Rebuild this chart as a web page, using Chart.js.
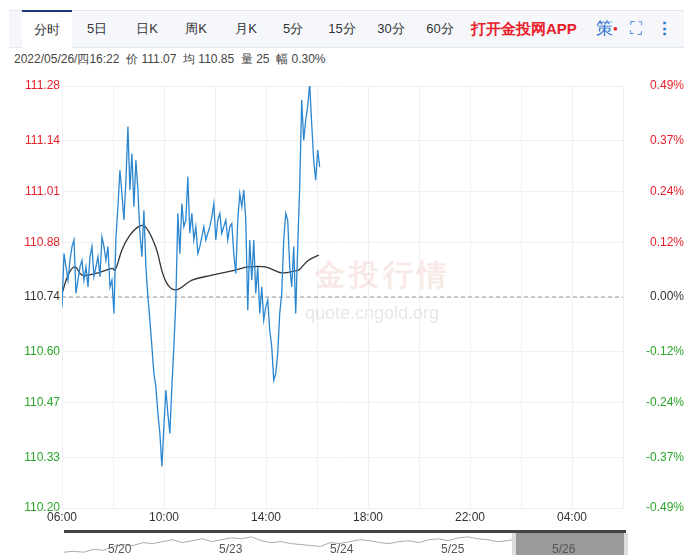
<!DOCTYPE html>
<html>
<head>
<meta charset="utf-8">
<script src="https://cdn.jsdelivr.net/npm/chart.js@4"></script>
<style>
body { margin: 0; width: 684px; height: 555px; background: #fff; font-family: "Liberation Sans", Arial, sans-serif; overflow: hidden; position: relative; }
.tabs { position: absolute; left: 9px; top: 10px; width: 675px; height: 36px; background: #f5f7fb; border-top: 1px solid #e3e8f0; border-bottom: 1px solid #e3e8f0; }
.tab { position: absolute; top: 0; height: 36px; line-height: 36px; font-size: 13px; color: #333; width: 50px; margin-left: -25px; text-align: center; }
.tab.on { background: #fff; border-top: 2px solid #1b3a7a; top: -1px; }
.app { position: absolute; left: 462px; top: 0; line-height: 36px; font-size: 15px; color: #e8202a; font-weight: bold; }
.info { position: absolute; left: 14px; top: 51px; font-size: 12px; color: #444; }
#wrap { position: absolute; left: 0; top: 70px; width: 684px; height: 460px; }
.wm { position: absolute; left: 315px; top: 255px; color: rgba(220,120,100,0.16); font-size: 30px; letter-spacing: 4px; font-weight: bold; }
.wm2 { position: absolute; left: 305px; top: 303px; color: rgba(160,160,160,0.25); font-size: 18px; }
.nav { position: absolute; left: 64px; top: 530px; width: 562px; height: 25px; border-top: 3px solid #444; }
.navsel { position: absolute; left: 448px; top: 0; width: 108px; height: 25px; background: #9a9a9a; border-left: 4px solid #ddd; border-right: 4px solid #ddd; }
.navlbl { position: absolute; top: 9px; font-size: 12px; color: #555; }
#navc { position: absolute; left: 0; top: 0; }
</style>
</head>
<body>
<div class="tabs">
  <div class="tab on" style="left:38px">分时</div>
  <div class="tab" style="left:88px">5日</div>
  <div class="tab" style="left:138px">日K</div>
  <div class="tab" style="left:187px">周K</div>
  <div class="tab" style="left:237px">月K</div>
  <div class="tab" style="left:284px">5分</div>
  <div class="tab" style="left:333px">15分</div>
  <div class="tab" style="left:382px">30分</div>
  <div class="tab" style="left:431px">60分</div>
  <div class="app">打开金投网APP</div>
  <div class="tab" style="left:598px;color:#2a6fd0;font-size:17px">策<span style="color:#e8202a;font-size:8px;vertical-align:top">●</span></div>
  <div class="tab" style="left:627px;color:#2a6fd0;font-size:17px">⛶</div>
  <div class="tab" style="left:655px;color:#2a6fd0;font-size:17px;font-weight:bold">⋮</div>
</div>
<div class="info">2022/05/26/四16:22 &nbsp;价 111.07 &nbsp;均 110.85 &nbsp;量 25 &nbsp;幅 0.30%</div>
<div id="wrap"><canvas id="c"></canvas></div>
<div class="wm">金投行情</div>
<div class="wm2">quote.cngold.org</div>
<div class="nav">
  <canvas id="navc" width="562" height="25"></canvas>
  <div class="navsel"></div>
  <div class="navlbl" style="left:44px">5/20</div>
  <div class="navlbl" style="left:155px">5/23</div>
  <div class="navlbl" style="left:266px">5/24</div>
  <div class="navlbl" style="left:377px">5/25</div>
  <div class="navlbl" style="left:488px">5/26</div>
</div>
<script>
const startHour = 6;
const sampleStep = 4.7; // minutes between price samples
const prices = [110.715,110.851,110.817,110.783,110.834,110.869,110.886,110.749,110.783,110.817,
  110.834,110.783,110.817,110.766,110.843,110.869,110.792,110.817,110.843,110.792,
  110.894,110.869,110.834,110.869,110.766,110.783,110.698,110.894,110.971,111.065,
  111.005,110.937,111.039,111.176,111.014,111.107,110.971,111.090,111.014,110.903,
  110.843,110.962,110.817,110.741,110.681,110.613,110.544,110.510,110.442,110.391,
  110.306,110.408,110.502,110.442,110.391,110.510,110.613,110.732,110.954,110.851,
  110.979,110.920,110.937,111.048,110.903,110.954,110.886,110.920,110.851,110.869,
  110.894,110.920,110.886,110.903,110.920,110.945,110.979,110.886,110.937,110.954,
  110.903,110.920,110.937,110.886,110.920,110.928,110.851,110.800,110.937,111.005,
  110.971,111.014,110.937,110.706,110.886,110.783,110.886,110.749,110.817,110.698,
  110.766,110.681,110.715,110.732,110.655,110.613,110.527,110.544,110.596,110.698,
  110.749,110.886,110.954,110.937,110.817,110.766,110.869,110.698,110.869,111.022,
  111.244,111.141,111.193,111.227,111.286,111.184,111.090,111.039,111.116,111.073];
const avgMinutes = [0,16,31,47,78,118,125,141,157,180,196,220,243,267,306,353,408,439,478,517,549,557,580,604];
const avgPrices = [110.749,110.800,110.817,110.796,110.800,110.813,110.809,110.860,110.894,110.920,110.920,110.869,
  110.783,110.758,110.783,110.796,110.809,110.817,110.817,110.802,110.807,110.809,110.834,110.847];
const prevClose = 110.74;
const priceTicks = [110.20,110.33,110.47,110.60,110.74,110.88,111.01,111.14,111.28];
const pctTicks = ['-0.49%','-0.37%','-0.24%','-0.12%','0.00%','0.12%','0.24%','0.37%','0.49%'];
const timeLabels = ['06:00','10:00','14:00','18:00','22:00','04:00'];
const navValues = [6,7,6,9,8,12,14,13,16,15,17,19,16,18,20,17,19,21,20,22,18,16,17,15,14,13,12,16,15,17,19,
  18,16,15,17,18,16,19,20,18,21,22,20,19,17,18,20,19,21,20,18,19,20,22,21,19,18,17];

const fam = '"Liberation Sans", Arial, sans-serif';
const tickColor = v => v > prevClose + 0.001 ? '#e8202a' : (v < prevClose - 0.001 ? '#2aa52a' : '#333');

new Chart(document.getElementById('c'), {
  type: 'line',
  data: {
    datasets: [
      { data: prices.map((p, i) => ({ x: i * sampleStep, y: p })), borderColor: '#2b86d0', borderWidth: 1.3, pointRadius: 0, tension: 0 },
      { data: avgMinutes.map((m, i) => ({ x: m, y: avgPrices[i] })), borderColor: '#333', borderWidth: 1.3, pointRadius: 0, tension: 0.4 },
      { data: [{ x: 0, y: prevClose }, { x: 1320, y: prevClose }], borderColor: '#999', borderWidth: 1, borderDash: [4, 3], pointRadius: 0 }
    ]
  },
  options: {
    animation: false, responsive: true, maintainAspectRatio: false,
    layout: { padding: { top: 16, right: 0, left: 0, bottom: 0 } },
    plugins: { legend: { display: false }, tooltip: { enabled: false } },
    scales: {
      x: {
        type: 'linear', min: 0, max: 1320,
        afterBuildTicks: s => { s.ticks = []; for (let m = 0; m <= 1320; m += 120) s.ticks.push({ value: m }); },
        ticks: {
          color: '#333', font: { family: fam, size: 12 }, maxRotation: 0, autoSkip: false, padding: 2,
          callback: v => v % 240 === 0 ? timeLabels[v / 240] : ''
        },
        grid: { color: '#eef0f4', drawTicks: false },
        border: { display: false },
        afterFit: s => { s.height = 22; }
      },
      y: {
        position: 'left', min: 110.20, max: 111.28,
        afterBuildTicks: s => { s.ticks = priceTicks.map(v => ({ value: v })); },
        ticks: { font: { family: fam, size: 12 }, color: c => tickColor(c.tick.value), callback: v => v.toFixed(2), padding: 2 },
        grid: { color: '#eef0f4', drawTicks: false },
        border: { display: false },
        afterFit: s => { s.width = 62; }
      },
      y2: {
        position: 'right', min: 110.20, max: 111.28,
        afterBuildTicks: s => { s.ticks = priceTicks.map(v => ({ value: v })); },
        ticks: { font: { family: fam, size: 12 }, color: c => tickColor(c.tick.value), callback: (v, i) => pctTicks[i], padding: 6, crossAlign: 'far' },
        grid: { display: false },
        border: { display: false },
        afterFit: s => { s.width = 61; }
      }
    }
  }
});

new Chart(document.getElementById('navc'), {
  type: 'line',
  data: { labels: navValues.map((v, i) => i), datasets: [{ data: navValues, borderColor: '#aaa', borderWidth: 1, pointRadius: 0 }] },
  options: {
    animation: false, responsive: false,
    plugins: { legend: { display: false }, tooltip: { enabled: false } },
    scales: { x: { display: false }, y: { display: false, min: 0, max: 26 } }
  }
});
</script>
</body>
</html>
